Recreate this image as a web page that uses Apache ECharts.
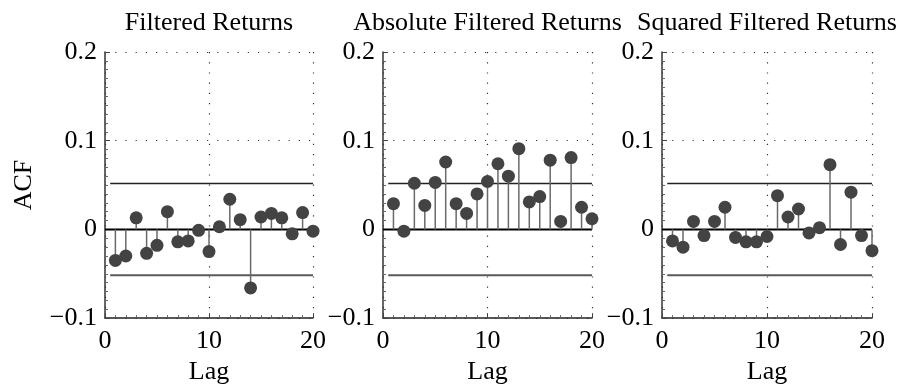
<!DOCTYPE html>
<html>
<head>
<meta charset="utf-8">
<script src="https://cdn.jsdelivr.net/npm/echarts@6/dist/echarts.min.js"></script>
<style>
  html, body { margin: 0; padding: 0; background: #fff; }
  #chart { width: 904px; height: 390px; }
</style>
</head>
<body>
<div id="chart"></div>
<script>
// Sample autocorrelation of filtered returns, lags 1..20
const lags = [1, 2, 3, 4, 5, 6, 7, 8, 9, 10, 11, 12, 13, 14, 15, 16, 17, 18, 19, 20];
const acfFiltered = [-0.035, -0.030, 0.013, -0.027, -0.018, 0.020, -0.014, -0.013, -0.001, -0.025,
                     0.003, 0.034, 0.011, -0.066, 0.014, 0.018, 0.013, -0.005, 0.019, -0.002];
const acfAbsolute = [0.029, -0.002, 0.052, 0.027, 0.053, 0.076, 0.029, 0.018, 0.040, 0.054,
                     0.074, 0.060, 0.091, 0.031, 0.037, 0.078, 0.009, 0.081, 0.025, 0.012];
const acfSquared = [-0.013, -0.020, 0.009, -0.007, 0.009, 0.025, -0.009, -0.014, -0.014, -0.008,
                    0.038, 0.014, 0.023, -0.004, 0.002, 0.073, -0.017, 0.042, -0.007, -0.024];
const panelTitles = ['Filtered Returns', 'Absolute Filtered Returns', 'Squared Filtered Returns'];
const confBound = 0.0517;       // approximate 95% bounds
const boundRange = [0.5, 20];   // lag span of the bound lines
const xRange = [0, 20];
const yRange = [-0.1, 0.2];

const FONT = '"Liberation Serif", "Times New Roman", serif';
const FS = 26;

const panels = [
  { left: 105, width: 208, data: acfFiltered },
  { left: 383, width: 209, data: acfAbsolute },
  { left: 662, width: 210, data: acfSquared }
];
const TOP = 52, HEIGHT = 267;

const dotted = { color: '#333', width: 1.2, type: [1.2, 9] };

const grids = [], xAxes = [], yAxes = [], series = [], graphics = [];

panels.forEach((p, i) => {
  grids.push({ left: p.left, top: TOP, width: p.width, height: HEIGHT, containLabel: false });

  xAxes.push({
    type: 'value', gridIndex: i, min: xRange[0], max: xRange[1], interval: 10,
    name: 'Lag', nameLocation: 'middle', nameGap: 40,
    nameTextStyle: { fontFamily: FONT, fontSize: FS, color: '#000' },
    axisLine: { show: true, onZero: false, lineStyle: { color: '#222', width: 1.5 } },
    axisTick: { show: true, inside: true, length: 5, lineStyle: { color: '#444' } },
    minorTick: { show: true, splitNumber: 10, length: 3, lineStyle: { color: '#666' } },
    axisLabel: { fontFamily: FONT, fontSize: FS, color: '#000', margin: 10 },
    splitLine: { show: true, lineStyle: dotted }
  });

  yAxes.push({
    type: 'value', gridIndex: i, min: yRange[0], max: yRange[1], interval: 0.1,
    name: i === 0 ? 'ACF' : '', nameLocation: 'middle', nameGap: 68,
    nameTextStyle: { fontFamily: FONT, fontSize: FS, color: '#000' },
    axisLine: { show: true, onZero: false, lineStyle: { color: '#333', width: 1.5 } },
    axisTick: { show: true, inside: true, length: 5, lineStyle: { color: '#444' } },
    minorTick: { show: true, splitNumber: 10, length: 3, lineStyle: { color: '#666' } },
    axisLabel: {
      fontFamily: FONT, fontSize: FS, color: '#000', margin: 8,
      formatter: v => {
        if (Math.abs(v) < 1e-9) return '0';
        const s = Math.abs(v).toFixed(1);
        return v < 0 ? '\u2212' + s : s;
      }
    },
    splitLine: { show: true, lineStyle: dotted }
  });

  // zero reference line
  series.push({
    type: 'line', xAxisIndex: i, yAxisIndex: i, z: 3, silent: true, symbol: 'none',
    data: [[xRange[0], 0], [xRange[1], 0]],
    lineStyle: { color: '#000', width: 2 }
  });
  // upper and lower confidence bounds
  series.push({
    type: 'line', xAxisIndex: i, yAxisIndex: i, z: 3, silent: true, symbol: 'none',
    data: boundRange.map(x => [x, confBound]),
    lineStyle: { color: '#222', width: 1.4 }
  });
  series.push({
    type: 'line', xAxisIndex: i, yAxisIndex: i, z: 3, silent: true, symbol: 'none',
    data: boundRange.map(x => [x, -confBound]),
    lineStyle: { color: '#5a5a5a', width: 2 }
  });
  // stems
  series.push({
    type: 'bar', xAxisIndex: i, yAxisIndex: i, z: 4, silent: true,
    barWidth: 1.5,
    data: lags.map((l, k) => [l, p.data[k]]),
    itemStyle: { color: '#6a6a6a' }
  });
  // stem heads
  series.push({
    type: 'scatter', xAxisIndex: i, yAxisIndex: i, z: 5, silent: true,
    symbol: 'circle', symbolSize: 13,
    data: lags.map((l, k) => [l, p.data[k]]),
    itemStyle: { color: '#434343', opacity: 1 }
  });

  graphics.push({
    type: 'text', x: p.left + p.width / 2, y: 23,
    style: {
      text: panelTitles[i], font: FS + 'px ' + FONT, fill: '#000',
      textAlign: 'center', textVerticalAlign: 'middle', verticalAlign: 'middle'
    }
  });
});

const chart = echarts.init(document.getElementById('chart'), null, { renderer: 'canvas' });
chart.setOption({
  animation: false,
  backgroundColor: '#fff',
  grid: grids,
  xAxis: xAxes,
  yAxis: yAxes,
  series: series,
  graphic: graphics
});
</script>
</body>
</html>
